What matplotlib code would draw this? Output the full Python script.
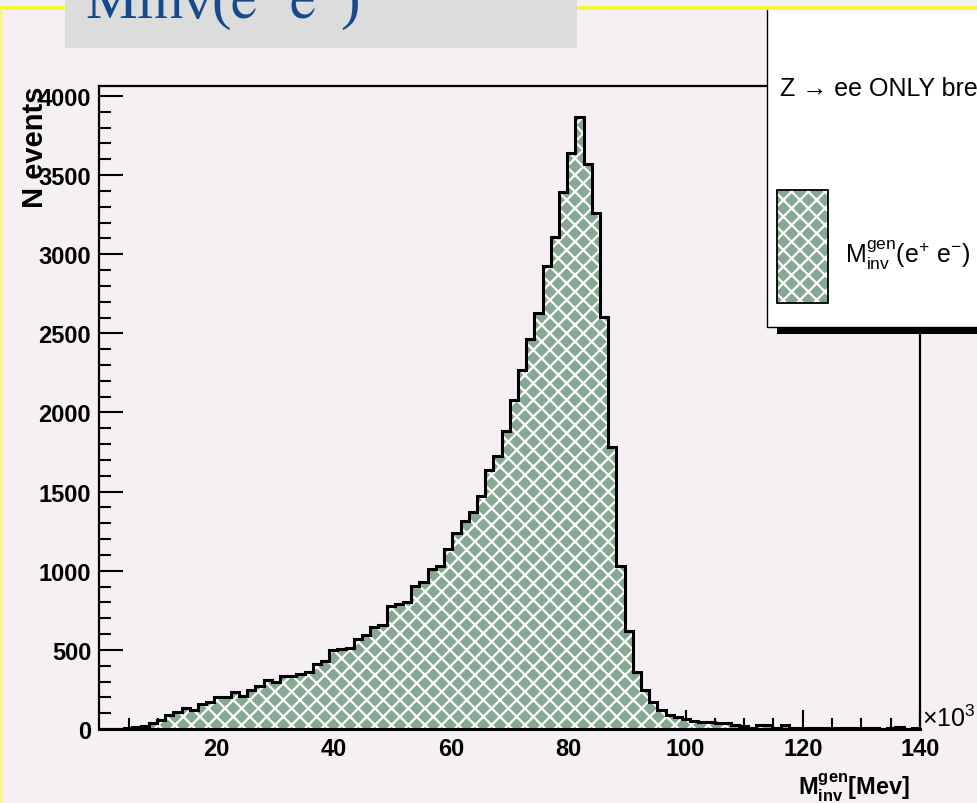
import numpy as np
import matplotlib
matplotlib.use("Agg")
import matplotlib.pyplot as plt
from matplotlib.patches import Rectangle

plt.rcParams['font.family'] = ['Liberation Sans', 'DejaVu Sans']
plt.rcParams['mathtext.fontset'] = 'custom'
plt.rcParams['mathtext.rm'] = 'Liberation Sans'
plt.rcParams['mathtext.it'] = 'Liberation Sans:italic'
plt.rcParams['mathtext.bf'] = 'Liberation Sans:bold'
plt.rcParams['hatch.linewidth'] = 1.6

# invariant mass histogram, 100 bins from 0 to 140 (x10^3)
x_min, x_max, n_bins = 0.0, 140.0, 100
counts = [0, 0, 0, 8, 12, 20, 35, 60, 90, 105,
          130, 120, 155, 170, 205, 205, 232, 208, 246, 271,
          309, 296, 335, 335, 350, 362, 410, 430, 498, 505,
          514, 569, 594, 645, 658, 777, 789, 801, 904, 931,
          1009, 1032, 1138, 1241, 1316, 1370, 1475, 1639, 1727, 1880,
          2080, 2271, 2465, 2629, 2928, 3111, 3392, 3638, 3866, 3571,
          3261, 2602, 1780, 1032, 621, 362, 247, 173, 120, 90,
          78, 63, 52, 42, 42, 40, 36, 25, 17, 8,
          23, 23, 8, 23, 6, 6, 6, 6, 5, 5,
          5, 5, 4, 4, 4, 0, 5, 10, 0, 8]
x_ticks = [20, 40, 60, 80, 100, 120, 140]
y_ticks = [0, 500, 1000, 1500, 2000, 2500, 3000, 3500, 4000]
y_top = 4063

bg = '#f4f0f4'
fill_green = '#87a893'
W, H = 978, 804

fig = plt.figure(figsize=(W / 100, H / 100), dpi=100, facecolor=bg)

# main frame
ax = fig.add_axes([99.5 / W, (H - 730) / H, (920 - 99.5) / W, (730 - 87) / H])
ax.set_facecolor(bg)
edges = np.linspace(x_min, x_max, n_bins + 1)
ax.stairs(counts, edges, fill=True, facecolor=fill_green, edgecolor='white',
          hatch='xx', linewidth=0, zorder=2)
ax.stairs(counts, edges, fill=False, color='black', linewidth=2.2, zorder=3)

ax.set_xlim(x_min, x_max)
ax.set_ylim(0, y_top)
ax.set_xticks(x_ticks)
ax.set_xticks(np.arange(5, 140, 5), minor=True)
ax.set_yticks(y_ticks)
ax.set_yticks(np.arange(0, 4001, 100), minor=True)
ax.tick_params(axis='both', which='both', direction='in', width=1.5,
               top=False, right=False, labelsize=17)
ax.tick_params(axis='x', which='major', length=13.5, pad=6)
ax.tick_params(axis='x', which='minor', length=8)
ax.tick_params(axis='y', which='major', length=17, pad=6)
ax.tick_params(axis='y', which='minor', length=8.5)
for lbl in ax.get_xticklabels() + ax.get_yticklabels():
    lbl.set_fontweight('bold')
for sp in ax.spines.values():
    sp.set_linewidth(1.6)
    sp.set_zorder(4)
ax.spines['bottom'].set_linewidth(2.2)

# overlay in pixel units for the slide/pad decorations
ov = fig.add_axes([0, 0, 1, 1])
ov.set_xlim(0, W)
ov.set_ylim(H, 0)
ov.axis('off')
ov.patch.set_visible(False)

# axis titles
ov.text(35, 87, 'N events', rotation=90, ha='center', va='top',
        fontsize=21, fontweight='bold')
ov.text(910, 796, r'$\mathbf{M}_{\mathbf{inv}}^{\mathbf{gen}}$[Mev]',
        ha='right', va='baseline', fontsize=17, fontweight='bold')
ov.text(922, 727, r'$\times$10$^{3}$', ha='left', va='baseline', fontsize=18)

# legend with shadow
ov.add_patch(Rectangle((777, 20), 260, 315, facecolor='black', edgecolor='none'))
ov.add_patch(Rectangle((767, -10), 260, 338, facecolor='white',
                       edgecolor='black', linewidth=1.0))
ov.text(780, 89, 'Z → ee ONLY brems', ha='left', va='center', fontsize=18)
ov.add_patch(Rectangle((777, 191), 51, 113, facecolor=fill_green,
                       edgecolor='white', hatch='xx', linewidth=0))
ov.add_patch(Rectangle((777, 191), 51, 113, facecolor='none',
                       edgecolor='black', linewidth=1.3))
ov.text(845, 255, r'M$_{\rm inv}^{\rm gen}$(e$^{+}$ e$^{-}$)', ha='left',
        va='center', fontsize=18)

# slide header strip and title box
ov.add_patch(Rectangle((0, 0), W, 8, facecolor='#f2f2f2', edgecolor='none'))
ov.add_patch(Rectangle((0, 7), W, 4, facecolor='#f8f53a', edgecolor='none'))
ov.add_patch(Rectangle((0, 10), 2.5, H, facecolor='#f6f29a', edgecolor='none'))
ov.add_patch(Rectangle((65, 0), 512, 49, facecolor='#dcdcdc', edgecolor='none'))
ov.text(85, 18, r'Minv($\mathrm{e}^{{}^{+}}\,\mathrm{e}^{{}^{-}}$)', ha='left',
        va='baseline', fontsize=42, color='#174a8b',
        family=['Liberation Serif', 'DejaVu Serif'], math_fontfamily='stix')

fig.savefig('out.png', dpi=100, facecolor=bg)
